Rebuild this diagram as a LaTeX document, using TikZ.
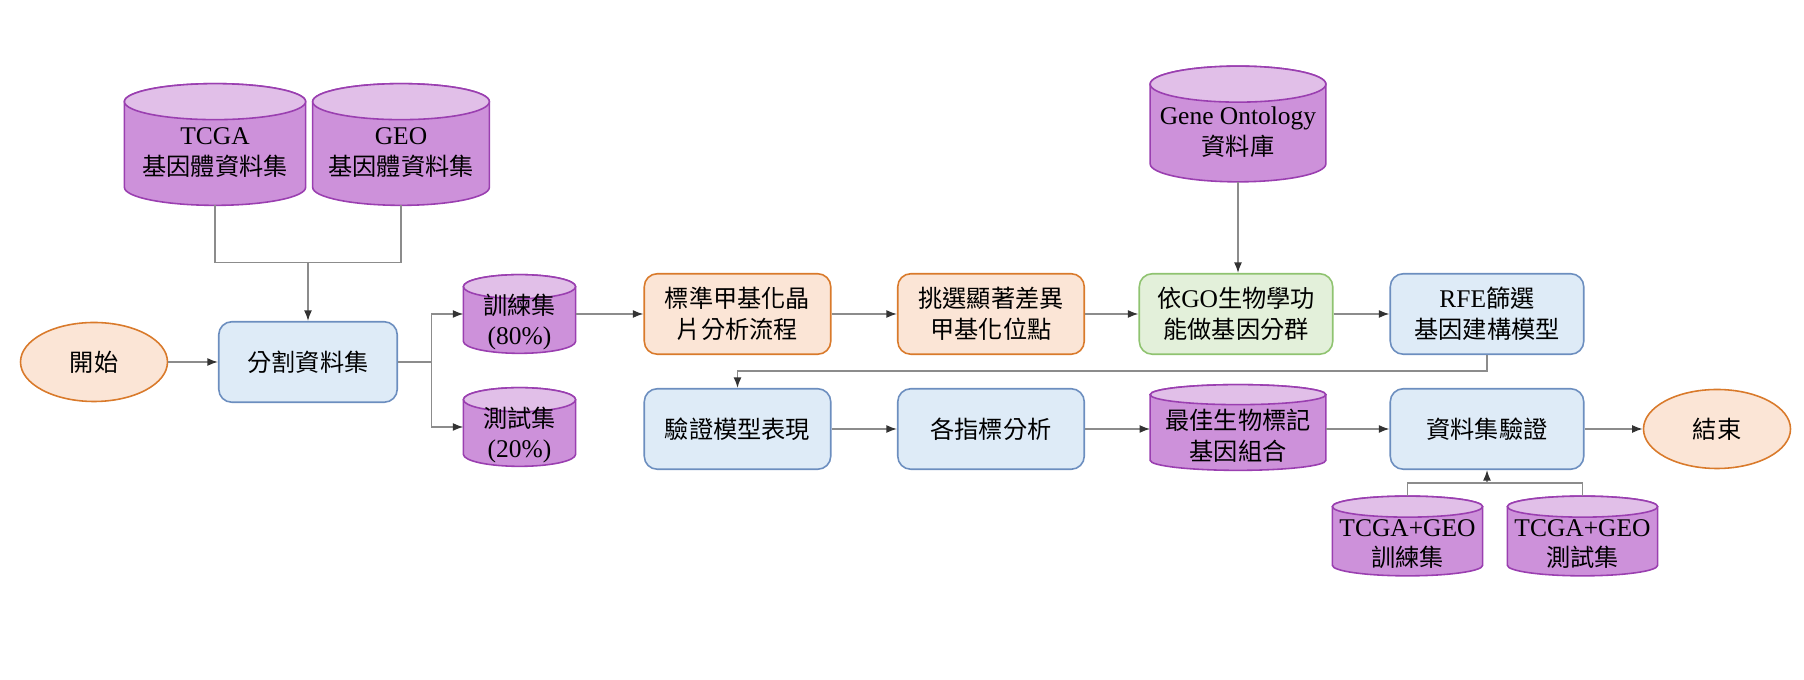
\documentclass[tikz,border=0pt]{standalone}
\usepackage{fontspec}
\setmainfont{Liberation Serif}
\newfontfamily\cjk{Noto Sans CJK TC}[Scale=0.95]
\usepackage{tikz}
\usetikzlibrary{calc,backgrounds,shapes.geometric,arrows.meta}
\newcommand{\zh}[1]{{\cjk #1}}

\definecolor{dbfill}{HTML}{CD91DA}
\definecolor{dbtop}{HTML}{E1BFE8}
\definecolor{dbline}{HTML}{9A3FB0}
\definecolor{bluefill}{HTML}{DEEBF7}
\definecolor{blueline}{HTML}{6C8EBF}
\definecolor{orfill}{HTML}{FBE5D6}
\definecolor{orline}{HTML}{D97A2B}
\definecolor{grfill}{HTML}{E3F0DA}
\definecolor{grline}{HTML}{8FC370}
\definecolor{linec}{HTML}{8C8C8C}
\definecolor{tipc}{HTML}{333333}

\tikzset{
  db/.style={rectangle, inner sep=0pt},
  dbtext/.style={align=center, yshift=-0.16cm},
  dbbody/.style={fill=dbfill, draw=dbline, line width=0.9pt},
  dbcap/.style={fill=dbtop, draw=dbline, line width=0.9pt},
  bluebox/.style={rectangle, rounded corners=0.26cm, draw=blueline, fill=bluefill,
    line width=0.9pt, minimum height=1.61cm, align=center},
  orbox/.style={bluebox, draw=orline, fill=orfill},
  grbox/.style={bluebox, draw=grline, fill=grfill},
  term/.style={ellipse, draw=orline, fill=orfill, line width=0.9pt,
    minimum width=2.94cm, minimum height=1.58cm},
  conn/.style={draw=linec, line width=0.8pt},
  arr/.style={conn, -{Latex[length=6pt,width=4.5pt,color=tipc]}}
}

\begin{document}
\begin{tikzpicture}[font=\fontsize{14.5}{17.5}\selectfont]
    \useasboundingbox (0,0) rectangle (36.08,13.6);
    % data sources
    \node[db, minimum width=3.61cm, minimum height=2.42cm,
      label={[dbtext]center:{TCGA\\\zh{基因體資料集}}}] (tcga) at (4.30,10.71) {};
    \node[db, minimum width=3.52cm, minimum height=2.42cm,
      label={[dbtext]center:{GEO\\\zh{基因體資料集}}}] (geo) at (8.02,10.71) {};
    \node[db, minimum width=3.50cm, minimum height=2.30cm,
      label={[dbtext]center:{Gene Ontology\\\zh{資料庫}}}] (gont) at (24.76,11.12) {};
    % first row
    \node[term] (start) at (1.88,6.36) {\zh{開始}};
    \node[bluebox, minimum width=3.57cm] (split) at (6.16,6.36) {\zh{分割資料集}};
    \node[db, minimum width=2.23cm, minimum height=1.56cm,
      label={[dbtext]center:{\zh{訓練集}\\(80\%)}}] (train) at (10.39,7.32) {};
    \node[db, minimum width=2.23cm, minimum height=1.56cm,
      label={[dbtext]center:{\zh{測試集}\\(20\%)}}] (test) at (10.39,5.06) {};
    \node[orbox, minimum width=3.73cm] (std) at (14.75,7.32) {\zh{標準甲基化晶}\\\zh{片分析流程}};
    \node[orbox, minimum width=3.73cm] (pick) at (19.82,7.32) {\zh{挑選顯著差異}\\\zh{甲基化位點}};
    \node[grbox, minimum width=3.87cm] (go) at (24.72,7.32) {\zh{依}GO\zh{生物學功}\\\zh{能做基因分群}};
    \node[bluebox, minimum width=3.87cm] (rfe) at (29.74,7.32) {RFE\zh{篩選}\\\zh{基因建構模型}};
    % second row
    \node[bluebox, minimum width=3.73cm] (verify) at (14.75,5.02) {\zh{驗證模型表現}};
    \node[bluebox, minimum width=3.73cm] (metric) at (19.82,5.02) {\zh{各指標分析}};
    \node[db, minimum width=3.50cm, minimum height=1.70cm,
      label={[dbtext]center:{\zh{最佳生物標記}\\\zh{基因組合}}}] (best) at (24.76,5.05) {};
    \node[bluebox, minimum width=3.87cm] (dsval) at (29.74,5.02) {\zh{資料集驗證}};
    \node[term] (end) at (34.34,5.02) {\zh{結束}};
    \node[db, minimum width=2.99cm, minimum height=1.58cm,
      label={[dbtext]center:{TCGA+GEO\\\zh{訓練集}}}] (tgtrain) at (28.15,2.88) {};
    \node[db, minimum width=2.99cm, minimum height=1.58cm,
      label={[dbtext]center:{TCGA+GEO\\\zh{測試集}}}] (tgtest) at (31.65,2.88) {};

    % cylinders behind the texts: name/cap radius
    \begin{pgfonlayer}{background}
    \foreach \db/\cr in {tcga/0.36cm, geo/0.36cm, gont/0.36cm, train/0.24cm, test/0.24cm,
                         best/0.2cm, tgtrain/0.21cm, tgtest/0.21cm}{
      \filldraw[dbbody] let \p1=(\db.north west), \p2=(\db.south east),
                            \n1={0.5*(\x2-\x1)} in
        (\x1,\y1-\cr) -- (\x1,\y2+\cr)
        arc[start angle=180, end angle=360, x radius=\n1, y radius=\cr]
        -- (\x2,\y1-\cr)
        arc[start angle=0, end angle=180, x radius=\n1, y radius=\cr] -- cycle;
      \filldraw[dbcap] let \p1=(\db.north west), \p2=(\db.south east),
                           \n1={0.5*(\x2-\x1)} in
        (\x1+\n1,\y1-\cr) ellipse[x radius=\n1, y radius=\cr];
    }
    \end{pgfonlayer}

    % joins
    \coordinate (srcjoin) at (6.16,8.35);
    \coordinate (fork) at (8.63,6.36);
    \coordinate (tgjoin) at (29.74,3.94);

    \draw[conn] (tcga.south) |- (srcjoin) -| (geo.south);
    \draw[arr] (srcjoin) -- (split.north);
    \draw[arr] (start) -- (split);
    \draw[conn] (split.east) -- (fork);
    \draw[arr] (fork) |- (train.west);
    \draw[arr] (fork) |- (test.west);
    \draw[arr] (train.east |- std) -- (std);
    \draw[arr] (std) -- (pick);
    \draw[arr] (pick) -- (go);
    \draw[arr] (gont.south) -- (gont.south |- go.north);
    \draw[arr] (go) -- (rfe);
    \draw[arr] (rfe.south) -- ++(0,-0.32) -| (verify.north);
    \draw[arr] (verify) -- (metric);
    \draw[arr] (metric) -- (best.west |- metric);
    \draw[arr] (best.east |- dsval) -- (dsval);
    \draw[arr] (dsval) -- (end);
    \draw[conn] (tgtrain.north) |- (tgjoin) -| (tgtest.north);
    \draw[arr] (tgjoin) -- (dsval.south);
\end{tikzpicture}
\end{document}
